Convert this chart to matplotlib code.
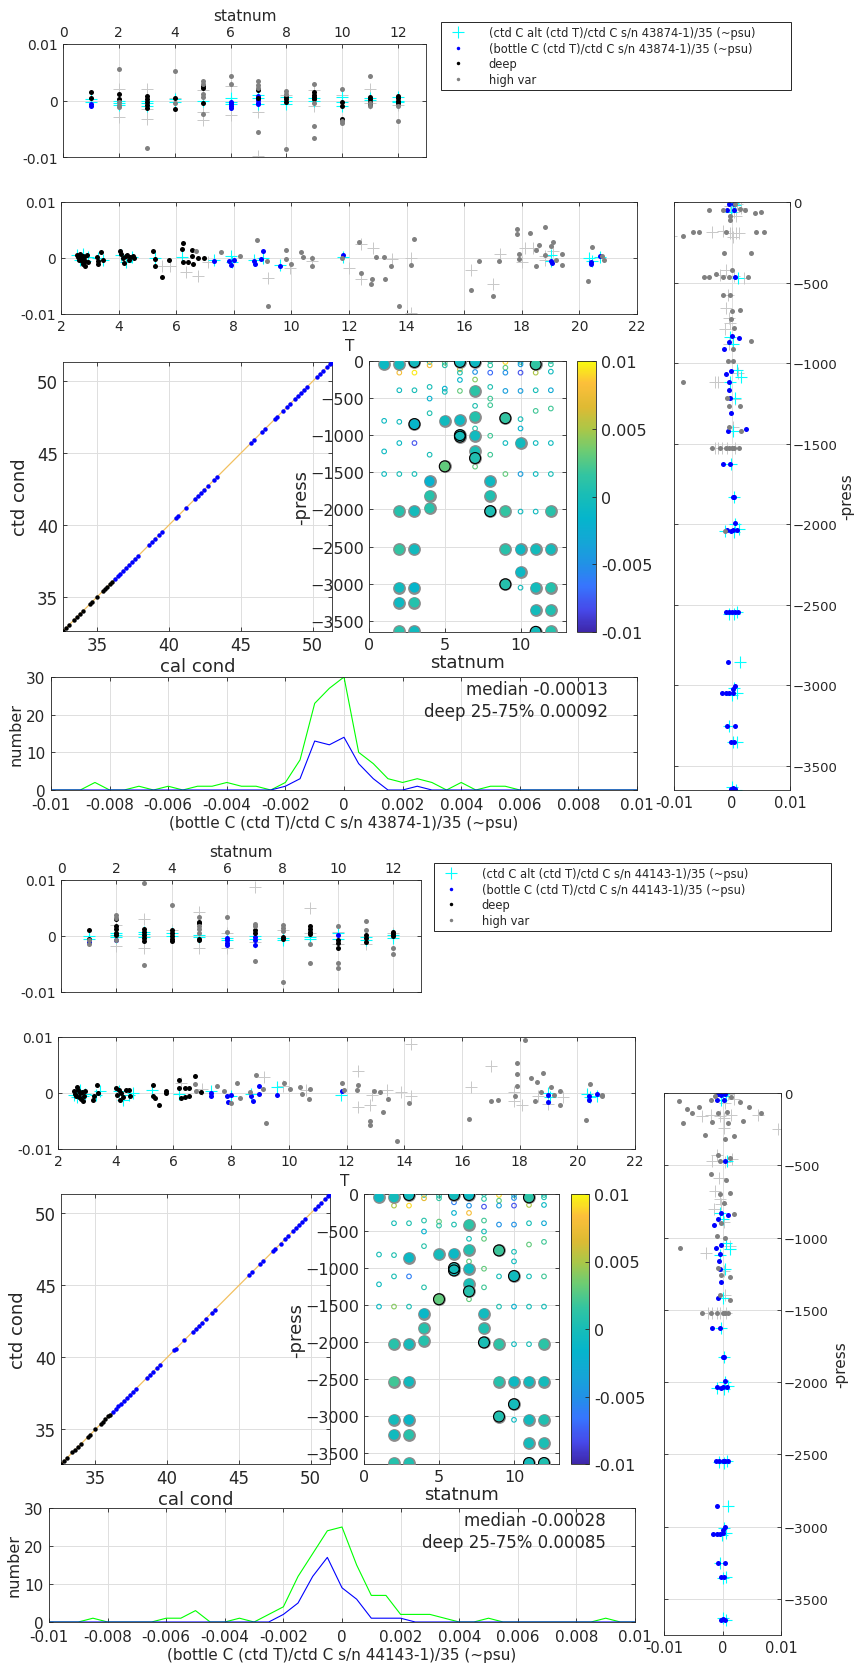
import numpy as np
import matplotlib
matplotlib.use('Agg')
import matplotlib.pyplot as plt
from matplotlib.colors import LinearSegmentedColormap, Normalize
from matplotlib.cm import ScalarMappable
from matplotlib.lines import Line2D

plt.rcParams['font.family'] = ['DejaVu Sans']

# ---------------- DATA: group 1 (s/n 43874-1) ----------------
sn1 = '43874-1'
# statnum panel (statnum, residual)
s1_cyan = [(1,0.0002),(1,-0.0003),(2,0),(2,-0.0004),(2,-0.0008),(3,0),(3,-0.0005),(3,-0.001),(4,0.0003),(4,-0.0002),
           (5,0),(6,0.0004),(6,-0.0002),(6,-0.0006),(7,0.001),(7,0.0004),(7,-0.0006),(8,0.0006),(8,0),(8,-0.0006),
           (9,0.0004),(9,0),(10,0.0006),(10,-0.0003),(10,-0.001),(11,0.0005),(11,0.0001),(12,0.0006),(12,0),(12,-0.0003)]
s1_lgray = [(2,0.002),(2,-0.003),(3,0.002),(3,-0.0032),(3,-0.0015),(4,0.0005),(5,0.0018),(5,-0.002),(5,-0.0035),
            (6,0.0025),(6,-0.0025),(7,-0.002),(7,-0.0098),(8,0.001),(9,0.0018),(9,-0.001),(10,0.001),(11,0.002),
            (11,-0.0005),(12,-0.0008)]
s1_blue = [(1,-0.0006),(1,-0.0009),(6,-0.0003),(6,-0.0006),(6,-0.0009),(6,-0.0013),(7,0.0008),(7,0.0004),(7,0.0001),
           (7,-0.0004),(7,-0.0006)]
s1_black = [(1,0.0015),(1,0.0004),(2,0.0012),(2,0.0003),(3,0.0008),(3,0.0003),(3,-0.0003),(3,-0.0008),(3,-0.0013),
            (4,0.0005),(4,-0.0015),(5,0.0026),(5,0.0022),(5,-0.0005),(7,0.0018),(7,0.0004),(8,0.0007),(8,0.0003),
            (8,-0.0002),(9,0.0015),(9,0.001),(9,0.0006),(9,0.0002),(10,-0.0003),(10,-0.0009),(10,-0.0033),
            (11,0.0006),(11,0.0002),(11,-0.0002),(11,-0.0007),(12,0.0008),(12,0.0004),(12,0),(12,-0.0005)]
s1_gray = [(2,0.0056),(2,-0.0003),(2,-0.0008),(2,-0.0012),(3,-0.0084),(4,0.0052),(4,-0.0005),(5,0.0034),(5,0.0029),
           (5,0.0012),(5,0.0006),(5,-0.0024),(6,0.0043),(6,0.003),(7,0.0034),(7,0.0028),(7,0.0023),(7,-0.0056),
           (8,0.0017),(8,0.0012),(8,-0.0085),(9,0.003),(9,-0.0005),(9,-0.0046),(9,-0.0066),(10,0.002),(10,-0.0037),
           (10,-0.004),(11,0.0044),(11,-0.0005),(11,-0.0009),(12,-0.001),(12,-0.0037)]
# T panel (T, residual)
t1_cyan = [(2.55,0.0005),(2.65,-0.0003),(2.75,0.0008),(2.85,-0.0006),(2.95,0.0002),(3.3,0),(3.45,-0.0004),(4.1,0.0005),
           (4.25,-0.0008),(4.45,0.0002),(5.25,0),(6.2,0.0002),(7.3,-0.0003),(7.9,0.0004),(7.95,-0.0008),(8.7,-0.0003),
           (9.0,0),(9.6,-0.0012),(11.8,0.0002),(19.0,0.0005),(19.0,-0.0006),(20.35,0),(20.45,-0.0005),(20.7,0.0002)]
t1_lgray = [(5.5,-0.0015),(5.8,-0.0015),(6.35,-0.0025),(6.75,-0.0032),(7.1,-0.0008),(9.2,-0.0035),(9.95,-0.0018),
            (10.7,-0.0005),(12.4,0.0025),(12.4,-0.0037),(12.85,0.0017),(12.0,-0.0018),(13.5,-0.0002),(14.15,0),
            (14.15,-0.0098),(16.25,-0.0022),(17.0,-0.0047),(17.25,0.0007),(18.1,0.0018),(18.4,0.0017),(18.8,0.0003),
            (18.8,-0.0003),(19.1,0.0013),(18.0,-0.0008)]
t1_blue = [(7.3,-0.0006),(7.85,-0.0005),(7.9,-0.0012),(8.0,-0.0004),(8.7,-0.0006),(8.75,-0.001),(8.95,-0.0001),
           (9.0,0.0013),(9.6,-0.0015),(11.8,0.0006),(19.0,-0.0005),(19.05,-0.0009),(20.4,-0.0008),(20.42,-0.0011),
           (20.7,0.0004)]
t1_black = [(2.55,0.0005),(2.6,0.0002),(2.62,-0.0003),(2.65,0.0007),(2.7,0),(2.72,-0.0006),(2.75,0.0004),(2.78,-0.001),
            (2.8,0.0002),(2.82,-0.0015),(2.85,-0.0005),(2.9,0.0006),(2.95,-0.0007),(3.25,0.0002),(3.3,-0.0005),
            (3.3,-0.001),(3.4,0.001),(3.45,-0.0003),(4.05,0.0013),(4.1,0.0008),(4.15,0),(4.2,-0.0009),(4.25,0.0004),
            (4.3,0.0006),(4.35,-0.0003),(4.4,0.0002),(4.5,0.0003),(4.55,0),(5.2,0.0013),(5.25,-0.0002),(5.25,-0.0015),
            (5.5,-0.0034),(5.75,-0.0004),(6.2,0.0016),(6.25,0.0026),(6.25,-0.0008),(6.4,-0.0008),(6.55,0.0014),
            (6.55,0.0004),(6.6,-0.001),(6.75,0),(6.95,0)]
t1_gray = [(6.7,0.0013),(7.55,0.0011),(8.2,0.0003),(8.8,0.0033),(9.2,-0.0085),(9.15,-0.0005),(9.8,0.0015),(9.8,-0.0002),
           (10.0,-0.001),(10.35,0.0011),(10.4,0.0002),(10.7,0),(10.7,-0.0015),(11.75,0),(12.35,0.0029),(12.4,-0.0026),
           (12.75,-0.0047),(12.8,-0.0038),(12.95,0.0002),(13.2,0.0002),(13.25,-0.0038),(13.45,-0.0015),(13.75,-0.0086),
           (14.15,-0.0013),(14.25,0.0034),(16.25,-0.0057),(16.5,-0.0005),(17.0,-0.0067),(17.2,-0.0005),(17.85,0.0051),
           (17.85,0.0043),(17.9,0.0008),(17.9,-0.0002),(18.3,0.0044),(18.5,0.0015),(18.5,-0.0015),(18.6,0.0023),
           (18.8,0.0055),(18.8,0.0006),(19.0,0.0022),(19.1,0.0029),(19.2,-0.0003),(19.4,-0.0012),(19.4,0.0008),
           (20.3,-0.0041),(20.45,0.0019),(20.8,0.0004),(20.85,-0.0003)]
# right panel (residual, pressure)
r1_lgray = [(-0.0003,25),(0.0008,15),(0.0015,35),(0.0003,60),(0.0007,90),(-0.0015,180),(-0.0003,190),(0,190),
            (0.0007,190),(0.0012,190),(-0.0035,185),(-0.0105,210),(0.0002,215),(-0.001,420),(-0.002,455),(0.0003,460),
            (0.002,470),(-0.0007,580),(-0.001,660),(-0.0005,720),(-0.0003,750),(-0.0012,790),(-0.0005,880),
            (0.001,1060),(-0.003,1115),(-0.0025,1120),(0.0005,1225),(0.0002,1395),(-0.003,1527),(-0.0025,1527),
            (-0.0018,1527),(-0.0008,1527),(0.0005,1527)]
r1_cyan = [(0.0002,5),(0.0005,20),(-0.0002,60),(0.001,470),(-0.0004,840),(0.0002,880),(0.0008,1040),(0.0015,1085),
           (-0.0003,1120),(0.0005,1215),(0.0002,1420),(-0.0002,1627),(0.0003,1830),(0.0005,2000),(0.0012,2030),
           (-0.0012,2040),(0.0003,2050),(-0.0005,2555),(0.0003,2560),(0.0008,2545),(0.0013,2855),(0.0003,3015),
           (0.0008,3045),(0,3060),(-0.0005,3255),(0.0002,3350),(0.0008,3350),(0,3630),(0.0007,3650)]
r1_gray = [(-0.004,52),(-0.0015,52),(0.0014,45),(0.0022,52),(0.004,70),(0.005,60),(0.0005,15),(-0.0004,85),
           (-0.0004,110),(-0.0085,210),(-0.0067,185),(-0.0057,185),(-0.0011,185),(0.0042,185),(0.0055,185),
           (-0.0013,318),(0.0032,318),(0,420),(-0.0048,468),(-0.004,468),(-0.0027,450),(-0.0016,468),(-0.0005,468),
           (0.0027,468),(-0.0016,575),(-0.0003,575),(0,675),(0.0014,672),(-0.0001,725),(0.0003,780),(0.0032,865),
           (0.0002,910),(-0.0007,990),(0.0002,990),(-0.0085,1115),(-0.0008,1217),(-0.0005,1265),(0.0013,1265),
           (-0.0005,1395),(0.0015,1420),(-0.0035,1527),(-0.002,1527),(-0.001,1527),(-0.0005,1527),(0,1527),
           (0.0003,1527),(0.0012,1527),(-0.0012,2045)]
r1_blue = [(-0.0006,10),(0.0003,12),(-0.0008,52),(0.0003,52),(0.0005,468),(0,830),(0.0012,842),(-0.0006,870),
           (-0.0013,915),(-0.0002,1050),(-0.001,1065),(-0.0005,1165),(-0.0005,1115),(-0.0003,1217),(-0.0001,1310),
           (-0.0007,1420),(0.0024,1410),(-0.0016,1627),(-0.0004,1627),(0.0001,1830),(0.0004,1830),(0.0006,1990),
           (-0.0008,2035),(-0.0002,2040),(0.0002,2035),(0.0009,2035),(-0.001,2545),(-0.0005,2545),(0,2545),
           (0.0005,2545),(0.001,2545),(-0.0007,2855),(0.0006,3005),(0.0001,3025),(-0.0017,3050),(-0.001,3050),
           (-0.0005,3050),(0.0002,3045),(-0.0008,3250),(0.0006,3250),(-0.0001,3350),(0.0003,3350),(0.0002,3640),
           (0.0005,3645),(-0.0001,3645)]
# cal cond vs ctd cond
c1_blue = [36.2,36.4,36.6,36.8,37.0,37.2,37.4,37.6,37.8,38.6,38.8,39.0,39.3,39.5,40.5,40.6,41.2,41.8,42.0,42.2,42.4,
           42.7,43.1,43.3,45.7,45.9,46.5,46.7,47.4,47.5,47.9,48.2,48.4,48.8,49.0,49.2,49.4,49.6,50.3,50.5,50.7,51.0,
           51.2,51.3]
c1_black = [32.6,32.8,33.0,33.4,33.6,33.8,34.0,34.5,34.6,35.0,35.4,35.5,35.7,35.9,36.0]
# statnum vs pressure, coloured by residual: big circles (stat, press, value)
p1_big = [(1,45,-0.0008),(2,45,-0.0005),(2,2023,0.0008),(2,2538,0.0015),(2,3053,-0.0005),(2,3254,-0.0008),(2,3640,0.0008),
          (3,13,-0.0005),(3,850,-0.0015),(3,2023,-0.0003),(3,2538,-0.0005),(3,3053,-0.0015),(3,3254,0.0008),(3,3640,-0.0005),
          (4,1620,-0.002),(4,1813,0.001),(4,1983,0.001),(5,806,-0.0005),(5,1419,0.003),
          (6,13,-0.0005),(6,797,-0.0008),(6,998,0.0003),(6,1020,-0.0002),
          (7,13,-0.0008),(7,403,0.0012),(7,752,0.0008),(7,1007,-0.0005),(7,1218,0.0003),(7,1307,0.0005),
          (8,1620,-0.0008),(8,1813,0.0005),(8,2023,0.0003),(9,770,0.0015),(9,2023,0.0015),(9,2538,0.001),(9,3008,0.0008),
          (10,1105,-0.0005),(10,2538,-0.0008),(10,2842,-0.001),
          (11,45,0.0015),(11,2538,-0.0003),(11,3053,-0.0003),(11,3357,-0.0003),(11,3648,-0.0003),
          (12,2023,0.001),(12,2538,-0.0003),(12,3053,0.0008),(12,3357,0.0005),(12,3640,0.0008)]
p1_bigblack = [(3,13),(6,13),(7,13),(11,45),(6,998),(6,1020),(7,1307),(5,1419),(9,770),(8,2023),(9,3008),(11,3648),(3,850)]
p1_small = [(1,806,-0.0008),(1,1218,-0.0008),(1,1522,-0.0005),
            (2,157,0.008),(2,394,-0.0005),(2,819,-0.0005),(2,1105,-0.001),(2,1522,0),
            (3,157,0.0095),(3,394,0),(3,1105,-0.008),(3,1522,0),
            (4,13,0),(4,58,0.008),(4,349,0),(4,506,-0.002),(4,703,0.0005),(4,1262,0),
            (5,22,0.003),(5,58,0.001),(5,372,-0.002),(5,416,0),
            (6,112,0.006),(6,157,0.0005),(6,255,-0.0015),(6,403,0.003),
            (7,148,-0.005),(7,250,0.004),(7,604,0.0005),(7,909,0.001),(7,1423,0.003),
            (8,0,0.001),(8,58,0.0015),(8,157,-0.007),(8,349,0.0005),(8,506,0.002),(8,595,0.002),(8,1007,0.002),(8,1262,0.002),
            (9,13,0.009),(9,90,0.003),(9,157,-0.005),(9,403,-0.004),(9,1105,-0.0005),(9,1522,0.003),
            (10,13,0.001),(10,45,-0.004),(10,157,-0.008),(10,403,-0.004),(10,783,0),(10,909,-0.002),(10,1522,-0.004),
            (10,2028,-0.0005),(10,3053,-0.0003),
            (11,157,0.005),(11,394,0),(11,672,0.002),(11,1105,-0.0005),(11,1522,-0.0005),(11,2028,-0.0005),
            (12,0,0.001),(12,45,0.0015),(12,143,-0.0005),(12,394,-0.003),(12,640,0.002),(12,1105,-0.0005),(12,1522,0)]
# histogram counts (bin centres -0.01 .. 0.01 step 0.0005)
hist_bins = [round(-0.01 + 0.0005*i, 4) for i in range(41)]
h1_all = [0,0,0,2,0,0,1,0,1,0,1,1,2,1,1,0,2,8,23,27,30,10,7,3,2,3,2,0,2,0,1,1,0,0,0,0,0,0,0,0,0]
h1_deep = [0,0,0,0,0,0,0,0,0,0,0,0,0,0,0,0,1,3,13,12,14,7,3,0,0,1,0,0,0,0,0,0,0,0,0,0,0,0,0,0,0]
h1_text = ['median -0.00013', 'deep 25-75% 0.00092']

# ---------------- DATA: group 2 (s/n 44143-1) ----------------
sn2 = '44143-1'
s2_cyan = [(1,0),(1,-0.0005),(2,0.0006),(2,0.0002),(2,-0.0002),(3,0.0008),(3,0.0003),(3,-0.0002),(4,0.0005),(4,0),
           (5,0.0002),(5,-0.0002),(6,-0.0003),(6,-0.0008),(7,0),(7,-0.0005),(8,-0.0003),(8,-0.0008),(9,-0.0002),
           (9,-0.0006),(10,0.0005),(10,-0.0005),(11,-0.0002),(11,-0.0007),(12,0.0002),(12,-0.0004)]
s2_lgray = [(2,0.002),(2,-0.0018),(3,0.003),(3,-0.0022),(4,0.001),(5,0.0042),(5,-0.0022),(6,0.0005),(6,-0.0022),
            (7,0.0088),(7,-0.001),(8,0.001),(9,0.005),(9,0.0005),(10,0.0008),(10,-0.0015),(11,-0.0015),(12,0.0005)]
s2_blue = [(1,-0.001),(2,-0.0008),(6,-0.0003),(6,-0.0008),(6,-0.0012),(6,-0.0016),(7,-0.0002),(7,-0.0008),(7,-0.0016),
           (10,0.0002)]
s2_black = [(1,0.0011),(1,-0.0005),(2,0.003),(2,0.0017),(2,0.0012),(2,0.0005),(2,0.0002),(3,0.0012),(3,0.0008),
            (3,0.0002),(3,-0.0004),(3,-0.0009),(4,0.0011),(4,0.0005),(4,0),(4,-0.0005),(4,-0.0009),(5,0.0025),
            (5,0.0023),(5,-0.0006),(5,-0.0008),(7,0.0011),(7,0.0005),(8,-0.0002),(8,-0.0005),(9,0.0017),(9,0.0013),
            (9,0.0008),(9,0.0003),(10,-0.0008),(10,-0.0013),(10,-0.0021),(11,0.0002),(11,-0.0004),(11,-0.001),
            (12,0.0008),(12,0.0004),(12,0)]
s2_gray = [(1,-0.0015),(1,-0.0007),(2,0.0037),(2,0.0033),(2,-0.0007),(3,0.0095),(3,-0.0052),(4,0.0055),(5,0.0034),
           (5,0.0018),(5,0.0012),(5,0.0006),(6,0.0034),(6,0.0007),(7,0.0022),(7,0.0018),(7,-0.0045),(8,0.0019),
           (8,0.0014),(8,0.0009),(8,-0.0082),(9,-0.0015),(9,-0.0049),(10,0.0018),(10,-0.0048),(10,-0.0058),
           (11,0.0027),(11,0.0011),(12,-0.0021),(12,-0.0033)]
t2_cyan = [(2.55,-0.0003),(2.65,-0.0008),(2.75,0.0005),(2.85,-0.0005),(2.95,-0.0002),(3.3,-0.0004),(3.45,0.0003),
           (4.1,0.0003),(4.25,-0.0012),(4.45,-0.0004),(4.6,0),(5.25,0.0006),(6.2,-0.0002),(7.3,0.0004),(8.0,-0.0005),
           (8.7,-0.0002),(9.6,0.001),(11.8,-0.0004),(19.0,0),(19.05,-0.0008),(20.35,-0.0002),(20.45,-0.0007),
           (20.7,-0.0005)]
t2_lgray = [(6.25,0.0018),(7.0,0.0008),(9.15,0.0029),(9.8,0.0012),(10.6,0.0005),(12.4,0.004),(12.4,-0.0025),
            (12.8,-0.0022),(12.9,-0.0003),(13.4,0.0006),(13.9,0.0001),(14.25,0.0088),(14.25,-0.0006),(16.3,0.001),
            (17.0,0.0048),(17.8,0.0001),(17.8,-0.0015),(18.1,-0.0021),(18.65,-0.0006),(19.0,-0.002),(19.5,-0.0008)]
t2_blue = [(7.3,0),(7.3,-0.0005),(7.85,-0.0005),(7.9,-0.0016),(8.0,-0.0004),(8.7,-0.0005),(8.75,-0.0014),(8.95,0.0013),
           (8.95,-0.0001),(9.6,-0.0003),(11.85,0.0003),(19.0,-0.0003),(19.0,-0.0016),(20.4,-0.0006),(20.42,-0.0012),
           (20.7,-0.0002)]
t2_black = [(2.55,0.0003),(2.6,-0.0002),(2.62,-0.0005),(2.65,0.001),(2.7,0.0005),(2.72,-0.0008),(2.75,0),(2.8,-0.001),
            (2.82,0.0002),(2.85,-0.0015),(2.9,-0.0005),(2.95,0.0003),(3.2,-0.0013),(3.25,-0.0005),(3.35,0.0015),
            (3.4,0),(4.0,0.0009),(4.05,-0.0004),(4.1,0.0005),(4.15,-0.0013),(4.2,0),(4.25,-0.0008),(4.35,0.0006),
            (4.45,0.0005),(4.5,-0.0005),(5.3,0.0014),(5.3,-0.0005),(5.35,-0.0009),(5.5,-0.0022),(5.75,0.0003),
            (5.75,0),(6.2,0.0024),(6.2,0.0009),(6.25,-0.0009),(6.4,0.0009),(6.4,-0.0007),(6.55,-0.0005),(6.55,0.0009),
            (6.75,0.003),(6.95,0.0001)]
t2_gray = [(6.75,0.0016),(6.8,0.0004),(7.5,0.0013),(7.75,0.0004),(8.0,-0.0017),(8.2,0.0018),(8.3,-0.0009),(8.65,0.0002),
           (8.85,0.0032),(9.1,0.0007),(9.2,-0.0054),(9.85,0.0018),(10.05,0.0008),(10.4,0.001),(10.45,-0.0001),
           (10.7,-0.001),(10.75,0.0008),(11.85,0.0018),(11.9,0.0005),(12.35,0.0005),(12.4,0.0015),(12.8,-0.005),
           (12.8,-0.0058),(12.95,0.0003),(13.15,0.0001),(13.25,-0.0034),(13.45,-0.001),(13.75,-0.0086),(14.15,-0.0018),
           (16.25,-0.0046),(17.0,-0.0015),(17.25,-0.0013),(17.85,-0.0006),(17.9,0.0054),(17.9,0.0034),(17.9,0.0012),
           (18.2,0.0094),(18.4,0.0026),(18.6,0.002),(18.55,-0.0014),(18.75,0.0001),(18.8,0.0036),(19.1,0.0011),
           (19.2,-0.0003),(19.4,-0.0022),(19.4,0.0004),(20.3,-0.0049),(20.45,0.0016),(20.85,-0.0003),(20.85,-0.0006)]
r2_lgray = [(-0.0003,20),(0.0009,10),(0.002,40),(0.0005,70),(-0.002,150),(-0.0005,160),(0.0003,170),(0.0015,150),
            (0.006,150),(0.0095,250),(-0.0035,160),(0.0002,240),(-0.001,430),(-0.0018,470),(0.0004,480),(0.0016,460),
            (-0.0006,590),(-0.0012,680),(-0.0004,730),(-0.0002,770),(-0.0014,800),(0.0002,890),(0.0012,1060),
            (-0.0028,1110),(0.0002,1230),(0.0004,1400),(-0.0025,1525),(-0.0018,1525),(-0.001,1525),(-0.0004,1525),
            (0.0006,1525)]
r2_cyan = [(0.0001,5),(0.0006,20),(-0.0003,50),(0.0008,470),(-0.0005,830),(0.0001,870),(0.0006,1040),(0.0012,1080),
           (-0.0004,1120),(0.0004,1215),(0.0001,1415),(-0.0003,1625),(0.0002,1830),(0.0004,2000),(0.001,2030),
           (-0.001,2040),(0.0002,2050),(-0.0006,2550),(0.0002,2560),(0.0007,2545),(0.001,2860),(0.0002,3010),
           (0.0006,3045),(-0.0001,3060),(-0.0004,3255),(0.0001,3355),(0.0006,3350),(0,3630),(0.0006,3645)]
r2_gray = [(-0.0075,55),(-0.006,110),(-0.004,95),(-0.002,45),(-0.0012,20),(0.0015,30),(0.003,60),(0.0045,100),
           (0.0065,140),(-0.0052,140),(-0.0008,140),(0.0008,130),(-0.0068,210),(-0.0018,200),(0.001,210),(0.0035,195),
           (-0.003,290),(0.0005,320),(0.002,300),(-0.0008,430),(-0.0004,470),(0.0012,450),(-0.002,560),(0.0006,600),
           (-0.0005,700),(0.0012,690),(0.0002,760),(0.002,840),(-0.0003,900),(-0.001,990),(0.0005,1000),(-0.0072,1070),
           (-0.0008,1210),(-0.0003,1260),(0.0013,1270),(-0.0004,1400),(0.0013,1430),(-0.0035,1525),(-0.002,1525),
           (-0.001,1525),(0,1525),(0.0004,1525),(0.001,1525)]
r2_blue = [(-0.0008,8),(-0.0002,12),(0.0005,10),(-0.0009,45),(0.0002,48),(0.0004,470),(-0.0002,830),(0.001,845),
           (-0.0008,870),(-0.0015,915),(-0.0003,1050),(-0.0011,1070),(-0.0006,1165),(-0.0004,1115),(-0.0004,1220),
           (-0.0002,1310),(-0.0008,1420),(-0.0018,1625),(-0.0005,1625),(0.0001,1830),(0.0003,1830),(0.0004,1990),
           (-0.0009,2035),(-0.0003,2040),(0.0001,2035),(0.0007,2035),(-0.0011,2545),(-0.0006,2545),(0,2545),
           (0.0004,2545),(0.0009,2545),(-0.001,2855),(0.0005,3005),(0,3025),(-0.0016,3050),(-0.001,3050),(-0.0004,3050),
           (0.0001,3045),(-0.0007,3250),(0.0005,3250),(-0.0002,3350),(0.0002,3350),(0.0001,3640),(0.0004,3645),
           (-0.0002,3645)]
c2_blue = [36.2,36.4,36.6,36.8,37.0,37.2,37.4,37.6,37.8,38.6,38.8,39.0,39.3,39.5,40.5,40.6,41.2,41.8,42.0,42.2,42.4,
           42.7,43.1,43.3,45.7,45.9,46.5,46.7,47.4,47.5,47.9,48.2,48.4,48.8,49.0,49.2,49.4,49.6,50.3,50.5,50.7,51.0,
           51.2,51.3]
c2_black = [32.6,32.8,33.0,33.4,33.6,33.8,34.0,34.5,34.6,35.0,35.4,35.5,35.7,35.9,36.0]
p2_big = [(1,45,-0.0008),(2,45,-0.0003),(2,2030,0.001),(2,2537,0.002),(2,3053,-0.0003),(2,3255,-0.0005),(2,3637,0.0008),
          (3,13,-0.0005),(3,862,-0.001),(3,2030,-0.0003),(3,2537,-0.0005),(3,3053,-0.0012),(3,3255,0.001),(3,3637,0.0005),
          (4,1617,-0.0012),(4,1818,0.0008),(4,1985,0.0008),(5,817,-0.0003),(5,1423,0.003),
          (6,13,-0.0003),(6,808,-0.001),(6,1001,0.0002),(6,1033,-0.0002),
          (7,13,-0.0008),(7,413,0.0012),(7,754,0.0005),(7,1010,-0.0005),(7,1212,0.0002),(7,1316,0.0008),
          (8,1617,-0.0005),(8,1818,0.0005),(8,2007,0.0002),(9,763,0.0018),(9,2030,0.0012),(9,2537,0.0008),(9,3008,0.0005),
          (10,1109,-0.0005),(10,2537,-0.0008),(10,2842,-0.0003),
          (11,45,0.0012),(11,2537,-0.0005),(11,3053,-0.0005),(11,3368,-0.0003),(11,3637,-0.0003),
          (12,2030,0.0012),(12,2537,-0.0003),(12,3053,0.0005),(12,3368,0.0003),(12,3637,0.0005)]
p2_bigblack = [(3,13),(6,13),(7,13),(11,45),(6,1001),(6,1033),(7,1316),(5,1423),(9,763),(8,2007),(9,3008),(10,1109),
               (10,2842),(11,3637),(12,3637)]
p2_small = [(1,818,0),(1,1221,-0.0005),(1,1522,-0.0008),
            (2,157,0.005),(2,395,0),(2,826,0.0005),(2,1114,0.0003),(2,1522,0.004),
            (3,157,0.009),(3,395,0.0005),(3,1114,-0.006),(3,1522,0.0003),
            (4,13,0.0005),(4,58,0.007),(4,359,0.001),(4,507,-0.002),(4,705,0.001),(4,1262,0.001),
            (5,22,0.0005),(5,58,0.0015),(5,373,0.003),(5,427,0.0012),
            (6,112,-0.006),(6,256,-0.002),(6,413,0.0005),
            (7,157,-0.005),(7,256,0.008),(7,606,0),(7,911,0.003),(7,1423,0.003),
            (8,0,0.0008),(8,67,0.0012),(8,171,-0.008),(8,359,0.002),(8,507,0),(8,606,0.003),(8,1010,0.003),(8,1262,0.002),
            (9,13,0.009),(9,90,0.003),(9,157,-0.004),(9,413,-0.005),(9,1114,0),(9,1522,0.0005),
            (10,13,0.0005),(10,54,-0.005),(10,157,-0.008),(10,413,-0.005),(10,781,0),(10,911,-0.0005),(10,1522,-0.002),
            (10,2030,-0.0005),(10,3053,-0.0008),
            (11,148,0.005),(11,395,0),(11,683,0.003),(11,1114,0),(11,1522,0),(11,2030,0),
            (12,13,0.0015),(12,45,0.0005),(12,148,-0.001),(12,395,-0.003),(12,647,0.002),(12,1114,0.002),(12,1522,0)]
h2_all = [0,0,0,1,0,0,0,0,1,1,3,0,0,1,0,2,4,12,18,24,25,15,7,7,2,2,2,1,0,0,1,0,0,0,0,0,0,0,1,0,0]
h2_deep = [0,0,0,0,0,0,0,0,0,0,0,0,0,0,0,0,2,5,12,17,9,6,1,1,1,0,0,0,0,0,0,0,0,0,0,0,0,0,0,0,0]
h2_text = ['median -0.00028', 'deep 25-75% 0.00085']

# ---------------- style ----------------
W, H = 855, 1665
fig = plt.figure(figsize=(W/100, H/100), dpi=100)
TXT = '#262626'
GRID = '#dedede'
parula = LinearSegmentedColormap.from_list('parula', [
    (0.00, (0.2422, 0.1504, 0.6603)), (0.08, (0.2760, 0.2850, 0.9150)), (0.17, (0.2150, 0.4600, 0.9950)),
    (0.25, (0.1300, 0.5700, 0.9000)), (0.33, (0.0800, 0.6500, 0.8400)), (0.42, (0.0200, 0.7100, 0.8000)),
    (0.50, (0.0900, 0.7400, 0.7200)), (0.58, (0.2000, 0.7700, 0.6300)), (0.67, (0.4300, 0.8000, 0.4500)),
    (0.75, (0.6700, 0.7800, 0.2800)), (0.83, (0.8700, 0.7300, 0.2000)), (0.92, (0.9900, 0.7500, 0.2300)),
    (1.00, (0.9763, 0.9831, 0.0538))])
norm = Normalize(-0.01, 0.01)


def ax_px(x0, y0, x1, y1):
    return fig.add_axes([x0 / W, 1 - y1 / H, (x1 - x0) / W, (y1 - y0) / H])


def style(ax, fs):
    ax.tick_params(direction='in', length=3, width=0.6, colors=TXT, labelsize=fs,
                   top=True, right=True, bottom=True, left=True)
    for s in ax.spines.values():
        s.set_color(TXT)
        s.set_linewidth(0.6)
    ax.grid(True, color=GRID, lw=0.7)
    ax.set_axisbelow(True)


def xy(pts):
    a = np.array(pts, dtype=float)
    return a[:, 0], a[:, 1]


def resid_layers(ax, cyan, lgray, blue, black, gray, swap=False):
    for pts, kw in [(lgray, dict(marker='+', ms=8, mew=0.7, color='#c8c8c8')),
                    (cyan, dict(marker='+', ms=8, mew=0.8, color='#00ffff')),
                    (blue, dict(marker='o', ms=3.6, mew=0, color='#0000ff')),
                    (black, dict(marker='o', ms=3.6, mew=0, color='black')),
                    (gray, dict(marker='o', ms=3.6, mew=0, color='#808080'))]:
        if not pts:
            continue
        x, y = xy(pts)
        if swap:
            ax.plot(x, -y, ls='none', **kw)
        else:
            ax.plot(x, y, ls='none', **kw)


def res_yaxis(ax):
    ax.set_ylim(-0.01, 0.01)
    ax.set_yticks([-0.01, 0, 0.01])
    ax.set_yticklabels(['-0.01', '0', '0.01'])


def draw_group(L, d):
    # statnum panel
    ax = ax_px(*L['stat'])
    style(ax, 10)
    resid_layers(ax, d['s_cyan'], d['s_lgray'], d['s_blue'], d['s_black'], d['s_gray'])
    ax.set_xlim(0, 13)
    ax.set_xticks(range(0, 13, 2))
    res_yaxis(ax)
    ax.tick_params(labeltop=True, labelbottom=False)
    ax.xaxis.set_label_position('top')
    ax.set_xlabel('statnum', fontsize=11, color=TXT, labelpad=4)
    # legend
    sn = d['sn']
    handles = [Line2D([], [], ls='none', marker='+', ms=8, mew=0.8, color='#00ffff'),
               Line2D([], [], ls='none', marker='o', ms=2.5, mew=0, color='#0000ff'),
               Line2D([], [], ls='none', marker='o', ms=2.5, mew=0, color='black'),
               Line2D([], [], ls='none', marker='o', ms=2.5, mew=0, color='#808080')]
    labels = ['(ctd C alt (ctd T)/ctd C s/n %s)/35 (~psu)' % sn,
              '(bottle C (ctd T)/ctd C s/n %s)/35 (~psu)' % sn, 'deep', 'high var']
    x0, y0, x1, y1 = L['leg']
    leg = fig.legend(handles, labels, loc='upper left',
                     bbox_to_anchor=(x0 / W, 1 - y0 / H, (x1 - x0) / W, (y1 - y0) / H),
                     mode='expand', fontsize=8.3, frameon=True, fancybox=False, edgecolor=TXT,
                     framealpha=1, labelspacing=0.22, borderpad=0.35, handlelength=2.2,
                     handletextpad=1.6, borderaxespad=0)
    leg.get_frame().set_linewidth(0.7)
    for t in leg.get_texts():
        t.set_color(TXT)

    # T panel
    ax = ax_px(*L['T'])
    style(ax, 10)
    resid_layers(ax, d['t_cyan'], d['t_lgray'], d['t_blue'], d['t_black'], d['t_gray'])
    ax.set_xlim(2, 22)
    ax.set_xticks(range(2, 23, 2))
    res_yaxis(ax)
    ax.text(L['Tlab'][0] / W, 1 - L['Tlab'][1] / H, 'T', transform=fig.transFigure, fontsize=11,
            color=TXT, ha='center', va='center')

    # right panel residual vs -press
    ax = ax_px(*L['R'])
    style(ax, 9.5)
    resid_layers(ax, d['r_cyan'], d['r_lgray'], d['r_blue'], [], d['r_gray'], swap=True)
    ax.set_xlim(-0.01, 0.01)
    ax.set_xticks([-0.01, 0, 0.01])
    ax.set_xticklabels(['-0.01', '0', '0.01'])
    ax.tick_params(axis='x', labelsize=10.5)
    ax.set_ylim(L['Rylim'], 0)
    ax.set_yticks(range(-3500, 1, 500))
    ax.tick_params(axis='y', labelleft=False, labelright=True, pad=2)
    ax.yaxis.set_label_position('right')
    ax.set_ylabel('-press', fontsize=11, color=TXT)
    x0, y0, x1, y1 = L['R']
    ax.yaxis.set_label_coords((L['Rlab'] - x0) / (x1 - x0), 0.5)
    ax.yaxis.label.set_va('center')
    ax.yaxis.label.set_ha('center')

    # cond panel
    ax = ax_px(*L['cond'])
    style(ax, 12)
    lo, hi = min(d['c_black'] + d['c_blue']), max(d['c_black'] + d['c_blue'])
    ax.plot([lo, hi], [lo, hi], color='#f2c060', lw=0.9, zorder=2)
    ax.plot(d['c_blue'], d['c_blue'], ls='none', marker='o', ms=3.2, mew=0, color='#0000ff', zorder=3)
    ax.plot(d['c_black'], d['c_black'], ls='none', marker='o', ms=3.2, mew=0, color='black', zorder=3)
    ax.set_xlim(32.6, 51.35)
    ax.set_ylim(32.6, 51.35)
    ax.set_xticks([35, 40, 45, 50])
    ax.set_yticks([35, 40, 45, 50])
    ax.set_xlabel('cal cond', fontsize=13, color=TXT, labelpad=2)
    ax.set_ylabel('ctd cond', fontsize=13, color=TXT, labelpad=6)

    # statnum vs -press coloured panel
    ax = ax_px(*L['P'])
    style(ax, 11.5)
    sst = np.array([a for a, b, c in d['p_small']])
    spr = np.array([b for a, b, c in d['p_small']])
    svv = np.array([c for a, b, c in d['p_small']])
    ax.scatter(sst, -spr, s=11, facecolors='none', edgecolors=parula(norm(svv)), linewidths=0.8, zorder=2)
    bst = np.array([a for a, b, c in d['p_big']])
    bpr = np.array([b for a, b, c in d['p_big']])
    bvv = np.array([c for a, b, c in d['p_big']])
    ax.scatter(bst, -bpr, s=85, c='#8c8c8c', linewidths=0, zorder=3)
    ax.scatter(bst, -bpr, s=50, c=parula(norm(bvv)), linewidths=0, zorder=4)
    kx, ky = xy(d['p_bigblack'])
    ax.scatter(kx, -ky, s=62, facecolors='none', edgecolors='black', linewidths=0.8, zorder=5)
    ax.set_xlim(0, 13)
    ax.set_xticks([0, 5, 10])
    ax.set_ylim(L['Pylim'], 0)
    ax.set_yticks(range(-3500, 1, 500))
    ax.set_xlabel('statnum', fontsize=13, color=TXT, labelpad=1)
    ax.set_ylabel('-press', fontsize=13, color=TXT, labelpad=0)

    cax = ax_px(*L['cb'])
    cb = fig.colorbar(ScalarMappable(norm=norm, cmap=parula), cax=cax, ticks=[-0.01, -0.005, 0, 0.005, 0.01])
    cb.ax.set_yticklabels(['-0.01', '-0.005', '0', '0.005', '0.01'])
    cb.ax.tick_params(direction='in', length=3, width=0.6, colors=TXT, labelsize=11.5)
    cb.outline.set_edgecolor(TXT)
    cb.outline.set_linewidth(0.6)

    # histogram
    ax = ax_px(*L['hist'])
    style(ax, 11)
    ax.plot(hist_bins, d['h_all'], color='#00ff00', lw=0.8)
    ax.plot(hist_bins, d['h_deep'], color='#0000ff', lw=0.8)
    ax.set_xlim(-0.01, 0.01)
    xt = [round(-0.01 + 0.002 * i, 3) for i in range(11)]
    ax.set_xticks(xt)
    ax.set_xticklabels(['0' if v == 0 else ('%g' % v) for v in xt])
    ax.set_ylim(0, 30)
    ax.set_yticks([0, 10, 20, 30])
    ax.tick_params(axis='x', pad=5)
    ax.tick_params(axis='y', pad=4)
    ax.set_xlabel('(bottle C (ctd T)/ctd C s/n %s)/35 (~psu)' % sn, fontsize=11, color=TXT, labelpad=2)
    ax.set_ylabel('number', fontsize=11.5, color=TXT, labelpad=2)
    ax.text(0.009, 26.8, d['h_text'][0], ha='right', va='center', fontsize=12, color=TXT)
    ax.text(0.009, 21.0, d['h_text'][1], ha='right', va='center', fontsize=12, color=TXT)


L1 = dict(stat=(63, 45, 426, 158), leg=(441, 90, 791, 157), T=(61, 203, 637, 315), Tlab=(350, 347),
          R=(674, 203, 790, 791), Rylim=-3650, Rlab=847, cond=(63, 363, 332, 632), P=(369, 362, 566, 633),
          Pylim=-3650, cb=(577, 362, 596, 633), hist=(51, 678, 637, 791))
L2 = dict(stat=(61, 881, 421, 993), leg=(434, 926, 831, 988), T=(58, 1038, 635, 1150), Tlab=(345, 1182),
          R=(664, 1094, 781, 1636), Rylim=-3750, Rlab=841, cond=(61, 1195, 330, 1465), P=(364, 1195, 559, 1465),
          Pylim=-3650, cb=(571, 1195, 589, 1465), hist=(49, 1509, 635, 1623))

d1 = dict(sn=sn1, s_cyan=s1_cyan, s_lgray=s1_lgray, s_blue=s1_blue, s_black=s1_black, s_gray=s1_gray,
          t_cyan=t1_cyan, t_lgray=t1_lgray, t_blue=t1_blue, t_black=t1_black, t_gray=t1_gray,
          r_cyan=r1_cyan, r_lgray=r1_lgray, r_blue=r1_blue, r_gray=r1_gray,
          c_blue=c1_blue, c_black=c1_black, p_big=p1_big, p_bigblack=p1_bigblack, p_small=p1_small,
          h_all=h1_all, h_deep=h1_deep, h_text=h1_text)
d2 = dict(sn=sn2, s_cyan=s2_cyan, s_lgray=s2_lgray, s_blue=s2_blue, s_black=s2_black, s_gray=s2_gray,
          t_cyan=t2_cyan, t_lgray=t2_lgray, t_blue=t2_blue, t_black=t2_black, t_gray=t2_gray,
          r_cyan=r2_cyan, r_lgray=r2_lgray, r_blue=r2_blue, r_gray=r2_gray,
          c_blue=c2_blue, c_black=c2_black, p_big=p2_big, p_bigblack=p2_bigblack, p_small=p2_small,
          h_all=h2_all, h_deep=h2_deep, h_text=h2_text)

draw_group(L1, d1)
draw_group(L2, d2)

fig.savefig('out.png', dpi=100)
